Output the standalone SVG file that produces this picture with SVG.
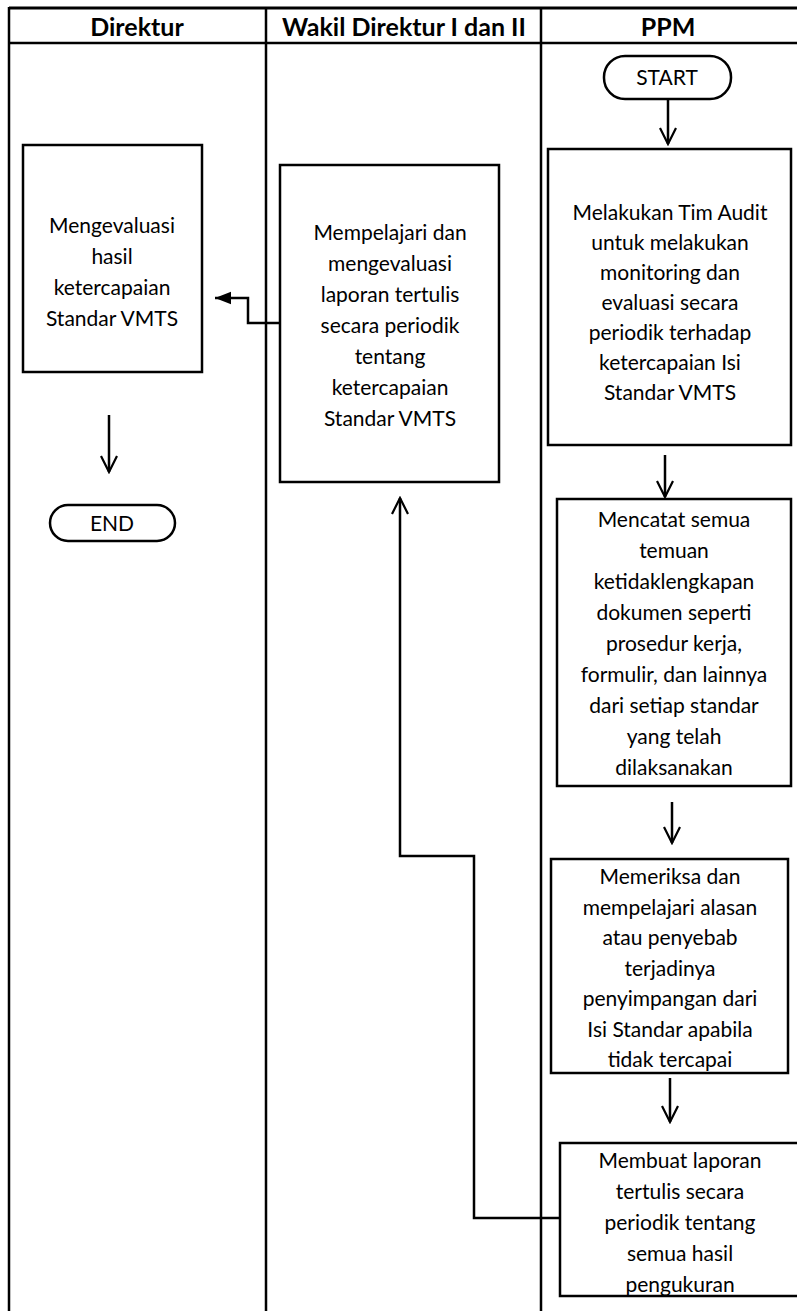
<svg xmlns="http://www.w3.org/2000/svg" width="797" height="1311" viewBox="0 0 797 1311">
<defs>
<style>
.lane{stroke:#000;stroke-width:2.5;fill:none}
.box{stroke:#000;stroke-width:2.5;fill:#fff}
.t{font-family:Lato,"Open Sans","Liberation Sans",sans-serif;font-size:21px;fill:#000;text-anchor:middle}
.h{font-family:Lato,"Open Sans","Liberation Sans",sans-serif;font-size:25px;font-weight:bold;fill:#000;text-anchor:middle}
.c{stroke:#000;stroke-width:2.5;fill:none}
</style>
<marker id="open" viewBox="0 0 20 20" refX="18" refY="10" markerWidth="20" markerHeight="20" markerUnits="userSpaceOnUse" orient="auto">
<path d="M2,2 L18,10 L2,18" fill="none" stroke="#000" stroke-width="2.2"/>
</marker>
<marker id="fill" viewBox="0 0 20 20" refX="18" refY="10" markerWidth="18" markerHeight="18" markerUnits="userSpaceOnUse" orient="auto">
<path d="M0,3 L18,10 L0,17 Z" fill="#000"/>
</marker>
</defs>
<rect width="797" height="1311" fill="#fff"/>
<g id="lanes">
<line class="lane" x1="9" y1="8" x2="797" y2="8" style="stroke-width:3"/>
<line class="lane" x1="9" y1="43" x2="797" y2="43"/>
<line class="lane" x1="9" y1="7" x2="9" y2="1311"/>
<line class="lane" x1="266" y1="7" x2="266" y2="1311"/>
<line class="lane" x1="541" y1="7" x2="541" y2="1311"/>
<text class="h" x="137" y="36">Direktur</text>
<text class="h" x="404" y="36">Wakil Direktur I dan II</text>
<text class="h" x="668" y="36">PPM</text>
</g>
<g id="start">
<rect class="box" x="604" y="56" width="127" height="43" rx="21"/>
<text class="t" x="667" y="85">START</text>
</g>
<g id="melakukan">
<rect class="box" x="548" y="149" width="243" height="296"/>
<text class="t" x="670" y="220">Melakukan Tim Audit</text>
<text class="t" x="670" y="250">untuk melakukan</text>
<text class="t" x="670" y="280">monitoring dan</text>
<text class="t" x="670" y="310">evaluasi secara</text>
<text class="t" x="670" y="340">periodik terhadap</text>
<text class="t" x="670" y="370">ketercapaian Isi</text>
<text class="t" x="670" y="400">Standar VMTS</text>
</g>
<g id="mencatat">
<rect class="box" x="557" y="499" width="234" height="287"/>
<text class="t" x="674" y="527">Mencatat semua</text>
<text class="t" x="674" y="558">temuan</text>
<text class="t" x="674" y="589">ketidaklengkapan</text>
<text class="t" x="674" y="620">dokumen seperti</text>
<text class="t" x="674" y="651">prosedur kerja,</text>
<text class="t" x="674" y="682">formulir, dan lainnya</text>
<text class="t" x="674" y="713">dari setiap standar</text>
<text class="t" x="674" y="744">yang telah</text>
<text class="t" x="674" y="775">dilaksanakan</text>
</g>
<g id="memeriksa">
<rect class="box" x="551" y="859" width="237" height="214"/>
<text class="t" x="670" y="884">Memeriksa dan</text>
<text class="t" x="670" y="914.5">mempelajari alasan</text>
<text class="t" x="670" y="945">atau penyebab</text>
<text class="t" x="670" y="975.5">terjadinya</text>
<text class="t" x="670" y="1006">penyimpangan dari</text>
<text class="t" x="670" y="1036.5">Isi Standar apabila</text>
<text class="t" x="670" y="1067">tidak tercapai</text>
</g>
<g id="membuat">
<rect class="box" x="560" y="1143" width="245" height="153"/>
<text class="t" x="680" y="1168">Membuat laporan</text>
<text class="t" x="680" y="1199">tertulis secara</text>
<text class="t" x="680" y="1230">periodik tentang</text>
<text class="t" x="680" y="1261">semua hasil</text>
<text class="t" x="680" y="1292">pengukuran</text>
</g>
<g id="mempelajari">
<rect class="box" x="280" y="165" width="219" height="317"/>
<text class="t" x="390" y="240">Mempelajari dan</text>
<text class="t" x="390" y="271">mengevaluasi</text>
<text class="t" x="390" y="302">laporan tertulis</text>
<text class="t" x="390" y="333">secara periodik</text>
<text class="t" x="390" y="364">tentang</text>
<text class="t" x="390" y="395">ketercapaian</text>
<text class="t" x="390" y="426">Standar VMTS</text>
</g>
<g id="mengevaluasi">
<rect class="box" x="23" y="145" width="179" height="227"/>
<text class="t" x="112" y="233">Mengevaluasi</text>
<text class="t" x="112" y="264">hasil</text>
<text class="t" x="112" y="295">ketercapaian</text>
<text class="t" x="112" y="326">Standar VMTS</text>
</g>
<g id="end">
<rect class="box" x="50" y="505" width="125" height="36" rx="18"/>
<text class="t" x="112" y="531">END</text>
</g>
<g id="connectors">
<line class="c" x1="668" y1="99" x2="668" y2="144" marker-end="url(#open)"/>
<line class="c" x1="665" y1="455" x2="665" y2="497" marker-end="url(#open)"/>
<line class="c" x1="672" y1="802" x2="672" y2="843" marker-end="url(#open)"/>
<line class="c" x1="670" y1="1078" x2="670" y2="1122" marker-end="url(#open)"/>
<line class="c" x1="109" y1="415" x2="109" y2="472" marker-end="url(#open)"/>
<polyline class="c" points="280,323 248,323 248,298 215,298" marker-end="url(#fill)"/>
<polyline class="c" points="560,1218 474,1218 474,856 400,856 400,498" marker-end="url(#open)"/>
</g>
</svg>
